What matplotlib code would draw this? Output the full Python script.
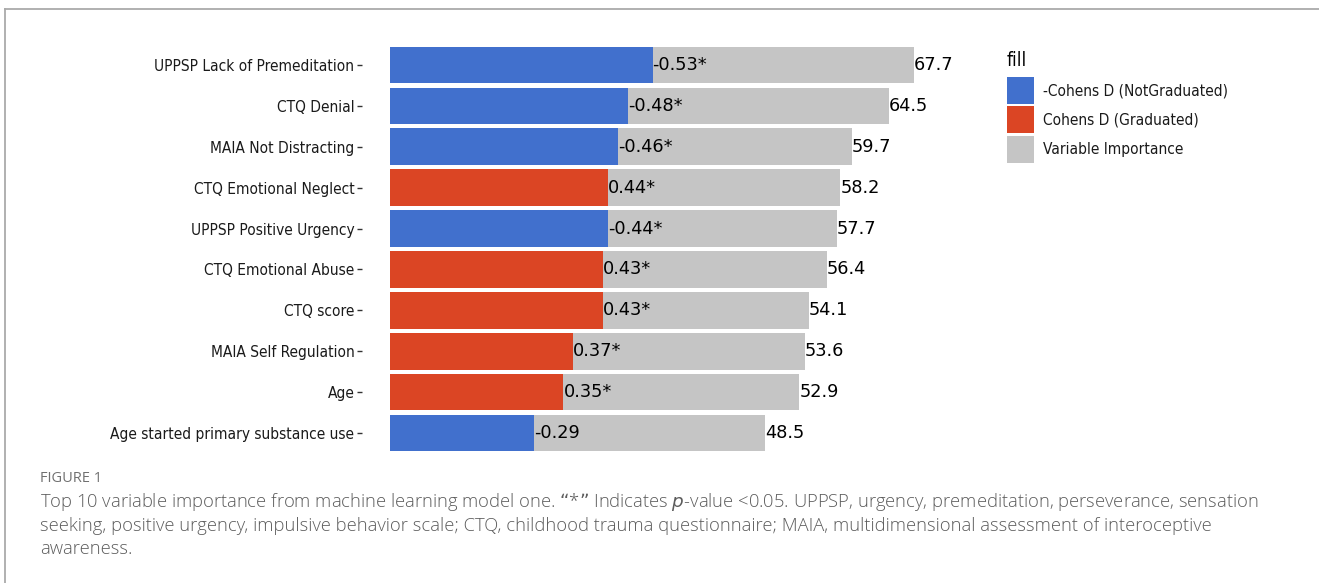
import matplotlib
matplotlib.use("Agg")
import matplotlib.pyplot as plt
from matplotlib.patches import Rectangle
from matplotlib.lines import Line2D

# Top 10 predictors, listed top to bottom
variables = [
    "UPPSP Lack of Premeditation",
    "CTQ Denial",
    "MAIA Not Distracting",
    "CTQ Emotional Neglect",
    "UPPSP Positive Urgency",
    "CTQ Emotional Abuse",
    "CTQ score",
    "MAIA Self Regulation",
    "Age",
    "Age started primary substance use",
]
importance = [67.7, 64.5, 59.7, 58.2, 57.7, 56.4, 54.1, 53.6, 52.9, 48.5]
cohens_d = [-0.53, -0.48, -0.46, 0.44, -0.44, 0.43, 0.43, 0.37, 0.35, -0.29]
significant = [True, True, True, True, True, True, True, True, True, False]

legend_title = "fill"
legend_labels = ["-Cohens D (NotGraduated)", "Cohens D (Graduated)", "Variable Importance"]

# Effect sizes are stretched onto the importance axis
d_scale = 64.0

COL_NEG = "#4170CD"
COL_POS = "#DB4524"
COL_IMP = "#C5C5C5"

W, H = 1319, 583
fig = plt.figure(figsize=(W / 100, H / 100), dpi=100)

# panel in pixel terms
left_px, right_px = 362, 990
top_px, bot_px = 40.5, 457.5
ax = fig.add_axes([left_px / W, 1 - bot_px / H,
                   (right_px - left_px) / W, (bot_px - top_px) / H])

n = len(variables)
ypos = list(range(n - 1, -1, -1))
bar_h = 0.9

ax.barh(ypos, importance, height=bar_h, color=COL_IMP, zorder=1)
d_len = [abs(d) * d_scale for d in cohens_d]
d_col = [COL_NEG if d < 0 else COL_POS for d in cohens_d]
ax.barh(ypos, d_len, height=bar_h, color=d_col, zorder=2)

for y, imp, d, L, sig in zip(ypos, importance, cohens_d, d_len, significant):
    ax.text(L, y, f"{d:.2f}" + ("*" if sig else ""), ha="left", va="center",
            fontsize=12.8, color="black", zorder=3)
    ax.text(imp, y, f"{imp:.1f}", ha="left", va="center",
            fontsize=12.8, color="black", zorder=3)

px_per_unit = 7.74
ax.set_xlim(-(390 - left_px) / px_per_unit, (right_px - 390) / px_per_unit)
ax.set_ylim(-0.6, n - 0.4)
ax.set_yticks(ypos)
ax.set_yticklabels(variables, fontsize=11.1, fontstretch="condensed",
                   color="#1a1a1a")
ax.set_xticks([])
for s in ax.spines.values():
    s.set_visible(False)
ax.tick_params(axis="y", length=3.6, width=1.0, color="#333333", pad=1.8)

# legend: title plus three square keys
fig.text(1007 / W, 1 - 61 / H, legend_title, fontsize=13.8,
         fontstretch="condensed", color="black", ha="left", va="center")
key_cols = [COL_NEG, COL_POS, COL_IMP]
key_size, key_pitch, key_top = 27, 29.5, 77
for i, (c, lab) in enumerate(zip(key_cols, legend_labels)):
    top = key_top + i * key_pitch
    fig.add_artist(Rectangle((1007 / W, 1 - (top + key_size) / H),
                             key_size / W, key_size / H, facecolor=c,
                             edgecolor="none", transform=fig.transFigure))
    fig.text(1043 / W, 1 - (top + key_size / 2) / H, lab, fontsize=11.1,
             fontstretch="condensed", color="#1a1a1a", ha="left", va="center")

# outer frame
fig.add_artist(Line2D([5 / W, 1], [1 - 9 / H, 1 - 9 / H], color="#aaaaaa",
                      lw=1.3, transform=fig.transFigure))
fig.add_artist(Line2D([5 / W, 5 / W], [0, 1 - 9 / H], color="#aaaaaa",
                      lw=1.3, transform=fig.transFigure))

# caption
cap_font = "Open Sans"
fig.text(40 / W, 1 - 478 / H, "FIGURE 1", fontsize=10.5, color="#707070",
         family=cap_font, va="center", ha="left")
cap_lines = [
    "Top 10 variable importance from machine learning model one. \u201c*\u201d Indicates $\\it{p}$-value <0.05. "
    "UPPSP, urgency, premeditation, perseverance, sensation",
    "seeking, positive urgency, impulsive behavior scale; CTQ, childhood trauma questionnaire; "
    "MAIA, multidimensional assessment of interoceptive",
    "awareness.",
]
for i, line in enumerate(cap_lines):
    fig.text(40 / W, 1 - (502 + 23.7 * i) / H, line, fontsize=13.25, color="#5c5c5c",
             family=cap_font, weight="light", va="center", ha="left")

fig.savefig("out.png", dpi=100)
